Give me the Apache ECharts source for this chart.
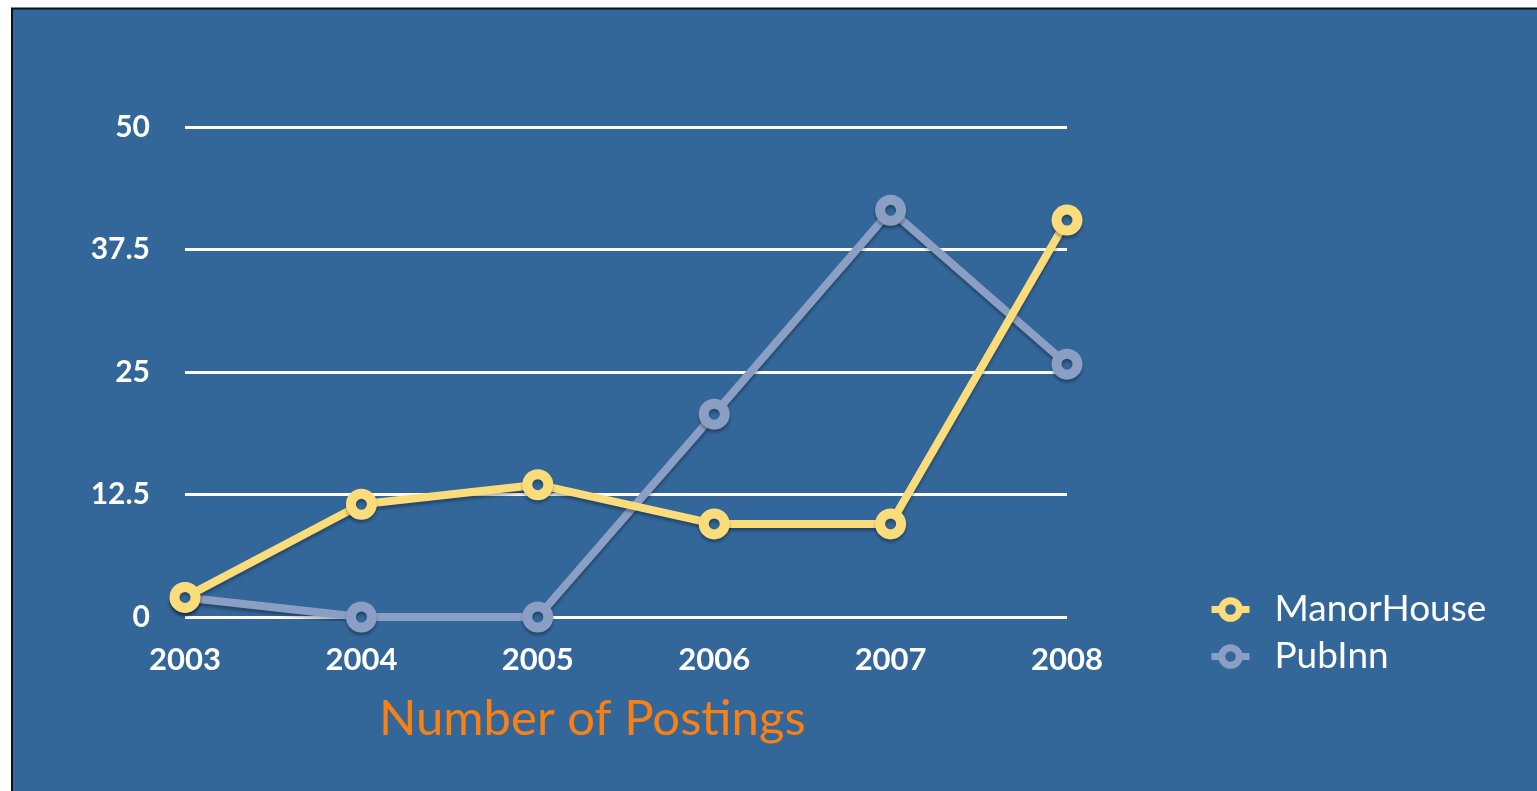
<!DOCTYPE html>
<html>
<head>
<meta charset="utf-8">
<script src="https://cdn.jsdelivr.net/npm/echarts@6/dist/echarts.min.js"></script>
<style>
  html, body { margin: 0; padding: 0; background: #fff; }
  #chart { width: 1537px; height: 791px; }
</style>
</head>
<body>
<div id="chart"></div>
<script>
// data
var years = ['2003', '2004', '2005', '2006', '2007', '2008'];
var manorHouse = [2, 11.5, 13.5, 9.5, 9.5, 40.5];
var pubInn = [2, 0, 0, 20.7, 41.5, 25.8];
var yTicks = [0, 12.5, 25, 37.5, 50];

var panelBlue = '#336699';
var yellow = '#fadc7a';
var grey = '#8b9ec4';
var font = 'Lato';

var chart = echarts.init(document.getElementById('chart'));

function lineSeries(name, data, color) {
  return {
    name: name,
    type: 'line',
    data: data,
    symbol: 'circle',
    symbolSize: 21,
    lineStyle: {
      color: color,
      width: 8,
      shadowColor: 'rgba(0,0,0,0.3)',
      shadowBlur: 3,
      shadowOffsetY: 3
    },
    itemStyle: {
      color: panelBlue,
      borderColor: color,
      borderWidth: 10,
      shadowColor: 'rgba(0,0,0,0.3)',
      shadowBlur: 3,
      shadowOffsetY: 3
    },
    emphasis: { disabled: true },
    z: 3
  };
}

function legendItem(name, color) {
  return {
    name: name,
    itemStyle: { color: panelBlue, borderColor: color, borderWidth: 7 },
    lineStyle: { color: color, width: 7 }
  };
}

var option = {
  backgroundColor: '#fff',
  animation: false,
  graphic: [{
    type: 'rect',
    shape: { x: 12, y: 8.5, width: 1540, height: 800 },
    style: { fill: panelBlue, stroke: '#111', lineWidth: 2 },
    z: -10
  }],
  title: {
    text: 'Number of Postings',
    left: 374,
    top: 690,
    textStyle: { color: '#f98012', fontFamily: font, fontWeight: 'normal', fontSize: 49 }
  },
  legend: {
    orient: 'vertical',
    left: 1203,
    top: 586,
    itemWidth: 38,
    itemHeight: 22,
    itemGap: 10,
    textStyle: { color: '#fff', fontFamily: font, fontSize: 37, padding: [0, 0, 0, 20] },
    data: [legendItem('ManorHouse', yellow), legendItem('PubInn', grey)]
  },
  grid: { left: 185, right: 470, top: 127, bottom: 174 },
  xAxis: {
    type: 'category',
    data: years,
    boundaryGap: false,
    axisLine: { show: false },
    axisTick: { show: false },
    axisLabel: { color: '#fff', fontFamily: font, fontWeight: 'bold', fontSize: 31, margin: 27 }
  },
  yAxis: {
    type: 'value',
    min: yTicks[0],
    max: yTicks[yTicks.length - 1],
    interval: yTicks[1] - yTicks[0],
    axisLine: { show: false },
    axisTick: { show: false },
    axisLabel: { color: '#fff', fontFamily: font, fontWeight: 'bold', fontSize: 30, margin: 35, padding: [6, 0, 0, 0] },
    splitLine: { lineStyle: { color: '#fff', width: 3 } }
  },
  series: [
    lineSeries('ManorHouse', manorHouse, yellow),
    lineSeries('PubInn', pubInn, grey)
  ]
};
// ManorHouse drawn above PubInn where they cross
option.series[0].z = 4;

chart.setOption(option);
</script>
</body>
</html>
